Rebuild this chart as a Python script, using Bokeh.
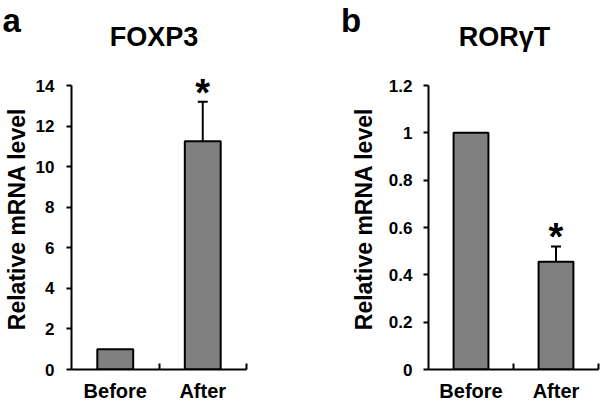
from bokeh.plotting import figure
from bokeh.models import Range1d, FixedTicker, ColumnDataSource, Whisker, TeeHead
from bokeh.layouts import row, column
from bokeh.core.properties import value
from bokeh.embed import file_html
from bokeh.resources import INLINE

# ---------------- data ----------------
categories = ["Before", "After"]
x_pos = [1, 2]
x_bounds = [1.5, 2.5]

foxp3_values = [1.0, 11.25]
foxp3_err = [0.0, 1.95]
foxp3_sig = ["", "*"]
foxp3_yticks = [0, 2, 4, 6, 8, 10, 12, 14]
foxp3_ylabels = ["0", "2", "4", "6", "8", "10", "12", "14"]

ror_values = [1.0, 0.455]
ror_err = [0.0, 0.065]
ror_sig = ["", "*"]
ror_yticks = [0, 0.2, 0.4, 0.6, 0.8, 1.0, 1.2]
ror_ylabels = ["0", "0.2", "0.4", "0.6", "0.8", "1", "1.2"]

FONT = "Liberation Sans"
HEAD_H = 56
MAIN_H = 348
PANEL_W = 300
HEADROOM = 1.06   # room above the axis top so the star is not clipped


def make_header(letter, title, letter_x, title_x):
    h = figure(width=PANEL_W, height=HEAD_H, output_backend="svg", toolbar_location=None,
               title=None,
               x_range=Range1d(0, PANEL_W), y_range=Range1d(HEAD_H, 0),
               x_axis_type=None, y_axis_type=None,
               min_border_left=0, min_border_right=0, min_border_top=0, min_border_bottom=0)
    h.frame_align = False
    h.outline_line_color = None
    h.xgrid.visible = False
    h.ygrid.visible = False
    h.background_fill_color = "white"
    h.border_fill_color = "white"
    h.text(x=[letter_x], y=[20], text=[letter], text_align="left", text_baseline="alphabetic",
           text_font=value(FONT), text_font_style="bold", text_font_size="33px",
           text_color="black")
    h.text(x=[title_x], y=[36.5], text=[title], text_align="center", text_baseline="alphabetic",
           text_font=value(FONT), text_font_style="bold", text_font_size="27px",
           text_color="black")
    return h


def make_panel(vals, errs, sig, yticks, ylabels, min_left, min_right, tick_standoff, als):
    p = figure(width=PANEL_W, height=MAIN_H, output_backend="svg", toolbar_location=None,
               x_range=Range1d(0.5, 2.5),
               y_range=Range1d(yticks[0], yticks[-1] * HEADROOM),
               min_border_left=min_left, min_border_right=min_right,
               min_border_top=12, min_border_bottom=35)
    p.frame_align = False
    p.outline_line_color = None
    p.xgrid.visible = False
    p.ygrid.visible = False
    p.background_fill_color = "white"
    p.border_fill_color = "white"

    # bars
    src = ColumnDataSource(dict(x=x_pos, top=vals, sig=sig,
                                upper=[v + e for v, e in zip(vals, errs)]))
    p.vbar(x="x", top="top", bottom=0, width=0.41, source=src,
           fill_color="#808080", line_color="black", line_width=2)

    # error bars (upper half only)
    ex = [x for x, e in zip(x_pos, errs) if e > 0]
    elo = [v for v, e in zip(vals, errs) if e > 0]
    ehi = [v + e for v, e in zip(vals, errs) if e > 0]
    esrc = ColumnDataSource(dict(base=ex, lower=elo, upper=ehi))
    w = Whisker(base="base", lower="lower", upper="upper", source=esrc,
                line_color="black", line_width=2, lower_head=None,
                upper_head=TeeHead(size=10, line_color="black", line_width=2))
    p.add_layout(w)

    # significance stars
    p.text(x="x", y="upper", text="sig", source=src, text_align="center",
           text_baseline="alphabetic", y_offset=-9,
           text_font=value(FONT), text_font_style="bold", text_font_size="38px",
           text_color="black")

    # x axis: labels under bars, ticks at category boundaries pointing up
    xa = p.xaxis[0]
    xa.ticker = FixedTicker(ticks=x_pos, minor_ticks=x_bounds)
    xa.major_label_overrides = {x: c for x, c in zip(x_pos, categories)}
    xa.major_tick_in = 0
    xa.major_tick_out = 0
    xa.minor_tick_in = 6
    xa.minor_tick_out = 0
    xa.minor_tick_line_width = 2
    xa.minor_tick_line_color = "black"
    xa.axis_line_width = 2
    xa.axis_line_color = "black"
    xa.major_label_standoff = 10
    xa.major_label_text_font = FONT
    xa.major_label_text_font_style = "bold"
    xa.major_label_text_font_size = "20px"
    xa.major_label_text_color = "black"

    # y axis (line stops at the top tick)
    ya = p.yaxis[0]
    ya.ticker = FixedTicker(ticks=yticks)
    ya.bounds = (yticks[0], yticks[-1])
    ya.major_label_overrides = {t: l for t, l in zip(yticks, ylabels)}
    ya.major_tick_in = 0
    ya.major_tick_out = 5
    ya.minor_tick_in = 0
    ya.minor_tick_out = 0
    ya.major_tick_line_width = 2
    ya.major_tick_line_color = "black"
    ya.axis_line_width = 2
    ya.axis_line_color = "black"
    ya.major_label_standoff = tick_standoff
    ya.major_label_text_font = FONT
    ya.major_label_text_font_style = "bold"
    ya.major_label_text_font_size = "17px"
    ya.major_label_text_color = "black"
    ya.axis_label = "Relative mRNA level"
    ya.axis_label_standoff = als
    ya.axis_label_text_font = FONT
    ya.axis_label_text_font_style = "bold"
    ya.axis_label_text_font_size = "23px"
    ya.axis_label_text_color = "black"
    return p


ha = make_header("a", "FOXP3", 2, 153.5)
pa = make_panel(foxp3_values, foxp3_err, foxp3_sig, foxp3_yticks, foxp3_ylabels,
                70, 54, 12, 3)
hb = make_header("b", "RORγT", 40.5, 204)
pb = make_panel(ror_values, ror_err, ror_sig, ror_yticks, ror_ylabels,
                128, 2, 11, 9)

layout = row(column(ha, pa), column(hb, pb))
open("out.html", "w").write(file_html(layout, INLINE))
